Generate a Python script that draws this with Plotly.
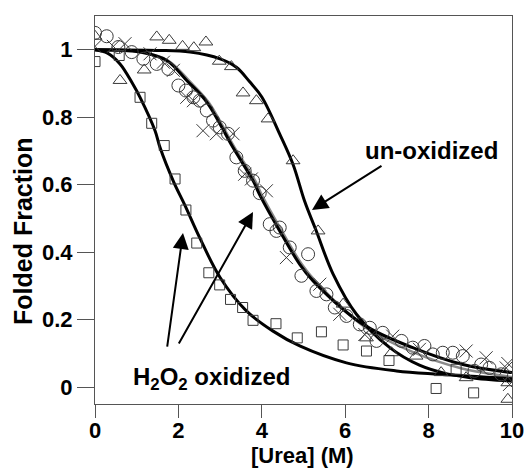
import plotly.graph_objects as go

# ---------------- data ----------------
# un-oxidized (triangles)
tri_x = [0, 0.6, 1.18, 1.48, 1.78, 2.1, 2.37, 2.66, 2.98, 3.27, 3.55, 3.87, 4.15, 4.75,
         5.35, 5.95, 6.51, 7.11, 7.7, 8.3, 8.9, 9.9, 9.9]
tri_y = [1.04, 0.909, 0.94, 1.038, 1.028, 1.01, 1.006, 1.023, 0.966, 0.95, 0.872, 0.849, 0.795, 0.671,
         0.463, 0.246, 0.146, 0.102, 0.092, 0.043, 0.028, 0.013, -0.036]

# circles
cir_x = [0, 0.28, 0.56, 0.88, 1.16, 1.48, 1.76, 2.0, 2.18, 2.36, 2.51, 2.68, 2.83, 2.99, 3.19,
         3.39, 3.59, 3.79, 3.95, 4.19, 4.35, 4.43, 4.67, 4.95, 5.11, 5.31, 5.55, 5.75, 6.03, 6.35,
         6.59, 6.75, 6.9, 7.35, 7.62, 7.9, 8.1, 8.34, 8.58, 8.82, 9.1, 9.26, 9.46, 9.74]
cir_y = [1.05, 1.04, 1.008, 0.993, 0.973, 0.958, 0.943, 0.894, 0.879, 0.859, 0.849, 0.82, 0.79, 0.77, 0.751,
         0.681, 0.641, 0.612, 0.575, 0.483, 0.463, 0.473, 0.414, 0.33, 0.394, 0.285, 0.275, 0.236, 0.211, 0.186,
         0.176, 0.137, 0.161, 0.137, 0.117, 0.122, 0.097, 0.102, 0.102, 0.092, 0.048, 0.067, 0.057, 0.038]

# crosses
crs_x = [0, 0.44, 0.72, 1.32, 1.64, 1.88, 2.2, 2.36, 2.59, 2.91, 3.31, 3.59, 3.75, 4.11, 4.59,
         5.39, 5.87, 6.47, 7.14, 7.78, 8.9, 9.38, 9.86, 9.9, 9.94]
crs_y = [1.01, 1.01, 1.018, 0.988, 0.963, 0.939, 0.859, 0.849, 0.76, 0.751, 0.751, 0.631, 0.617, 0.582, 0.384,
         0.305, 0.216, 0.156, 0.151, 0.112, 0.107, 0.087, 0.057, 0.07, 0.008]

# H2O2 oxidized (squares)
sq_x = [0, 0.58, 1.08, 1.36, 1.66, 1.92, 2.18, 2.44, 2.73, 2.99, 3.25, 3.54, 3.79, 4.34, 4.85,
        5.43, 5.95, 6.51, 7.05, 8.66, 8.18, 9.08]
sq_y = [0.965, 0.983, 0.859, 0.782, 0.716, 0.617, 0.525, 0.427, 0.339, 0.303, 0.26, 0.236, 0.198, 0.188, 0.146,
        0.164, 0.125, 0.107, 0.079, 0.053, -0.004, -0.017]

# fitted curves (sampled along the drawn lines)
fit_tri_x = [0, 1.5, 2.28, 3.0, 3.39, 3.71, 4.0, 4.43, 4.75, 5.03, 5.3, 5.71, 6.27, 7.07, 7.78, 8.42, 9.0, 10]
fit_tri_y = [1.0, 0.998, 0.993, 0.973, 0.948, 0.905, 0.86, 0.75, 0.66, 0.55, 0.465, 0.335, 0.216, 0.117, 0.065, 0.04, 0.028, 0.018]

fit_cir_x = [0, 1.08, 1.72, 2.2, 2.68, 3.31, 3.79, 3.95, 4.43, 4.91, 5.23, 6.43, 7.62, 8.82, 10]
fit_cir_y = [1.0, 0.993, 0.968, 0.909, 0.845, 0.71, 0.612, 0.57, 0.463, 0.364, 0.315, 0.186, 0.117, 0.067, 0.043]

fit_crs_x = [0, 1.1, 1.75, 2.25, 2.72, 3.35, 3.84, 4.0, 4.48, 4.96, 5.28, 6.45, 7.6, 8.8, 10]
fit_crs_y = [1.0, 0.993, 0.968, 0.909, 0.845, 0.71, 0.612, 0.57, 0.463, 0.364, 0.315, 0.18, 0.105, 0.055, 0.03]

fit_sq_x = [0, 0.3, 0.6, 0.9, 1.08, 1.44, 1.56, 1.88, 2.16, 2.51, 3.0, 3.63, 4.27, 4.91, 6.03, 7.23, 8.26, 10]
fit_sq_y = [1.0, 0.99, 0.958, 0.9, 0.859, 0.76, 0.71, 0.61, 0.538, 0.443, 0.325, 0.226, 0.166, 0.122, 0.072, 0.048, 0.038, 0.025]

x_ticks = [0, 2, 4, 6, 8, 10]
x_tick_text = ["0", "2", "4", "6", "8", "10"]
y_ticks = [0, 0.2, 0.4, 0.6, 0.8, 1]
y_tick_text = ["0", "0.2", "0.4", "0.6", "0.8", "1"]

FONT = "Liberation Sans, Arial, Helvetica, sans-serif"
MK = "#3a3a3a"

# plot-area geometry (pixels) used to place the axis-title annotations
L, R, T, B = 95, 512, 16, 404

fig = go.Figure()

# fit lines
fig.add_trace(go.Scatter(x=fit_crs_x, y=fit_crs_y, mode="lines", line=dict(color="#8a8a8a", width=2.5, shape="spline")))
for fx, fy in [(fit_tri_x, fit_tri_y), (fit_cir_x, fit_cir_y), (fit_sq_x, fit_sq_y)]:
    fig.add_trace(go.Scatter(x=fx, y=fy, mode="lines", line=dict(color="black", width=3, shape="spline")))

# markers
fig.add_trace(go.Scatter(x=sq_x, y=sq_y, mode="markers",
                         marker=dict(symbol="square-open", size=10, color=MK, line=dict(width=1, color=MK))))
fig.add_trace(go.Scatter(x=tri_x, y=tri_y, mode="markers",
                         marker=dict(symbol="triangle-up-open", size=12, color=MK, line=dict(width=1, color=MK))))
fig.add_trace(go.Scatter(x=cir_x, y=cir_y, mode="markers",
                         marker=dict(symbol="circle-open", size=13, color=MK, line=dict(width=1, color=MK))))
fig.add_trace(go.Scatter(x=crs_x, y=crs_y, mode="markers",
                         marker=dict(symbol="x-thin-open", size=13, color=MK, line=dict(width=1, color=MK))))

# arrows (pixel anchor points converted to data coordinates)
arrows = [((383, 165), (312, 210)), ((167, 348), (183, 233)), ((178, 345), (253, 212))]

def px2data(px, py):
    return ((px - 95) / 41.7, (387 - py) / 337.0)

for (sx, sy), (tx, ty) in arrows:
    ax_, ay_ = px2data(sx, sy)
    x_, y_ = px2data(tx, ty)
    fig.add_annotation(x=x_, y=y_, ax=ax_, ay=ay_, xref="x", yref="y", axref="x", ayref="y",
                       text="", showarrow=True, arrowhead=2, arrowsize=1.6, arrowwidth=2, arrowcolor="black")

fig.add_annotation(x=8.08, y=0.70, xref="x", yref="y", text="<b>un-oxidized</b>", showarrow=False,
                   font=dict(family=FONT, size=24, color="black"))
fig.add_annotation(x=2.8, y=0.027, xref="x", yref="y", text="<b>H<sub>2</sub>O<sub>2</sub> oxidized</b>", showarrow=False,
                   font=dict(family=FONT, size=24, color="black"))

# axis titles
fig.add_annotation(x=(23 - L) / (R - L), y=(B - 231) / (B - T), xref="paper", yref="paper",
                   text="<b>Folded Fraction</b>", textangle=-90, showarrow=False,
                   font=dict(family=FONT, size=25, color="black"), xanchor="center", yanchor="middle")
fig.add_annotation(x=(302 - L) / (R - L), y=(B - 455) / (B - T), xref="paper", yref="paper",
                   text="<b>[Urea] (M)</b>", showarrow=False,
                   font=dict(family=FONT, size=22, color="black"), xanchor="center", yanchor="middle")

axis_common = dict(showline=True, linecolor="#555555", linewidth=1, mirror=True, showgrid=False, zeroline=False,
                   ticks="outside", tickcolor="#555555", tickwidth=1, automargin=False,
                   tickfont=dict(family=FONT, size=22, color="black", weight="bold"))

fig.update_layout(
    width=531, height=471,
    margin=dict(l=L, r=531 - R, t=T, b=471 - B),
    paper_bgcolor="white", plot_bgcolor="white",
    showlegend=False,
    xaxis=dict(range=[0, 10], tickvals=x_ticks, ticktext=["<b>%s</b>" % t for t in x_tick_text], ticklen=13,
               ticklabelstandoff=-6, **axis_common),
    yaxis=dict(range=[-0.05, 1.1], tickvals=y_ticks, ticktext=["<b>%s</b>" % t for t in y_tick_text], ticklen=17,
               **axis_common),
)

fig.write_html("out.html")
